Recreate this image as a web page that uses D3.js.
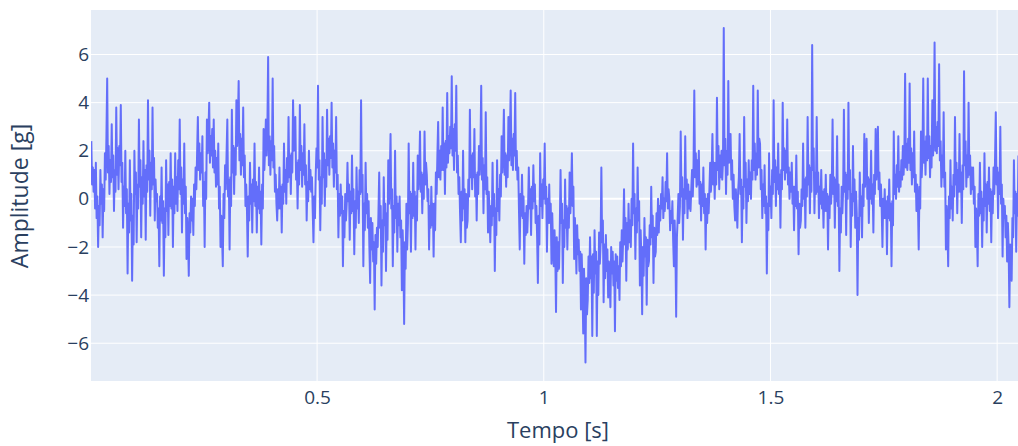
<!DOCTYPE html>
<html>
<head>
<meta charset="utf-8">
<script src="https://cdn.jsdelivr.net/npm/d3@7"></script>
<style>
  body { margin: 0; background: #ffffff; }
  text { font-family: "Open Sans", sans-serif; fill: #2a3f5f; }
</style>
</head>
<body>
<svg id="chart" width="1018" height="446"></svg>
<script>
// Accelerometer record: amplitude [g], one sample every 5/3 ms
const startTime = 0.002;        // s
const sampleStep = 0.005 / 3;   // s

const amplitudeSeg1 = [
  2.4, 0.6, 1.3, 0.3, 1.2, -0.4, 1.5, -0.8, 0.1, -2.0, -0.3, -1.1, 1.2, -0.2, 0.6, -1.6, 0.4, -0.5, 1.9, 0.8, 2.6, 5.0, 1.1, 2.2, 0.2, 1.6, 0.7, 3.1, 0.9, 1.8,
  -0.5, 1.2, 0.3, 3.8, 1.0, 2.1, 0.4, 2.2, 1.4, 3.9, 0.7, 1.5, -1.2, 0.5, -0.3, 2.0, -0.6, 0.4, -3.1, -0.2, -1.4, 1.6, -0.9, 0.2, -3.4, -0.7, -1.9, 2.0, 0.2, 1.1,
  -1.8, 0.6, -0.4, 3.3, 0.5, 1.6, -1.6, 0.9, -0.2, 2.4, 0.1, 1.2, -1.7, 1.4, 0.3, 4.1, 0.8, 2.0, -0.7, 1.5, 0.4, 3.8, 0.6, 1.7, -0.9, 0.8, -0.1, 0.2, -1.2, -0.4,
  -2.8, 0.1, -0.9, 1.3, -1.0, -0.1, -3.2, -0.4, -1.6, 1.6, -0.5, 0.6, -1.5, 0.7, -0.3, 1.9, -0.4, 0.8, -2.0, 0.5, -0.6, 1.9, -0.2, 0.9, -0.5, 1.6, 0.4, 3.3, 0.2, 1.3,
  -1.4, 0.8, -0.2, 2.3, -0.6, 0.5, -2.5, -0.8, -1.6, -3.2, -0.6, -1.4, 0.1, -0.9, 0.0, -1.5, 0.6, -0.3, 1.3, 0.4, 1.9, 3.4, 1.2, 2.3, 0.8, 1.9, 1.1, 2.6, -0.3, 0.7,
  -2.0, 1.1, 0.0, 3.3, 1.9, 2.8, 4.0, 1.5, 2.6, 1.8, 2.9, 1.3, 3.3, 1.1, 2.0, 0.5, 1.7, 0.6, 2.3, -0.4, 0.5, -2.0, -0.7, -1.5, -2.8, 0.2, -0.8, 1.4, 0.4, 1.9,
  3.3, 0.1, 0.8, -2.1, 0.9, -0.3, 3.7, 1.1, 2.2, 0.2, 2.1, 1.0, 4.1, 2.2, 3.2, 4.9, 1.6, 2.7, 1.0, 2.5, 1.4, 3.8, 0.9, 1.8, -0.3, 0.6, -0.5, -2.4, 0.1, -0.9,
  1.5, -0.2, 0.6, -1.4, 0.8, -0.1, 2.3, -0.3, 0.7, -1.4, 0.5, -0.4, 1.3, -0.6, 0.3, -1.9, 0.6, -0.4, 2.9, 1.2, 2.1, 3.3, 1.8, 2.9, 5.9, 1.4, 2.6, 1.0, 2.4, 1.6,
  5.0, 1.3, 2.2, 0.3, 1.0, -0.2, -0.9, 0.4, -0.4, 1.3, -0.4, 0.5, -1.4, 0.6, -0.2, 2.3, 0.3, 1.2, -0.2, 1.7, 0.7, 3.4, 0.9, 1.8, 0.2, 1.9, 1.1, 4.1, 2.0, 3.0,
  3.4, 0.8, 1.5, -0.4, 1.6, 0.6, 3.9, 1.2, 2.2, 0.5, 1.9, 1.0, 3.1, 0.6, 1.4, -0.9, 0.7, -0.1, 2.0, 0.4, 1.2, 0.3, 0.9, -0.5, -1.8, 0.1, -0.8, 1.0, 2.1, 1.3,
  4.7, 0.8, 1.6, -1.3, 0.9, -0.2
];
const amplitudeSeg2 = [
  3.4, 0.9, 1.9, -0.3, 1.6, 0.5, 3.7, 1.4, 2.5, 1.0, 2.6, 1.7, 4.0, 1.3, 2.3, 0.5, 2.0, 1.1, 3.4, 0.4, 1.0, -1.6, 0.2, -0.7, 0.6, -0.6, 0.1, -2.8, -0.5, -1.6,
  0.2, -0.9, -0.2, 1.5, -0.1, 0.6, -1.7, 0.3, -0.6, 1.8, -0.5, 0.4, -2.3, -0.1, -1.2, 1.3, -0.4, 0.3, -1.0, 1.2, 0.2, 4.1, 0.3, 1.0, -2.8, -0.2, -1.3, 1.5, -0.6, 0.2,
  -1.2, -0.1, -2.0, -3.5, -0.8, -2.1, -1.0, -2.6, -1.8, -4.6, -1.5, -2.7, -1.2, -2.0, -0.6, 1.1, -1.2, -0.3, -3.6, -0.9, -2.2, 0.9, -1.1, -0.2, -3.0, -0.6, -1.7, 1.6, -0.2, 0.9,
  2.7, -0.4, 0.4, -2.8, -0.3, -1.4, 2.0, -0.8, 0.1, -2.2, -0.2, -1.1, 0.1, -1.6, -0.9, -3.8, -1.3, -2.4, -5.2, -1.8, -2.9, -0.2, -2.1, -1.0, 2.3, -0.6, 0.3, -2.2, 0.2, -0.8,
  1.5, -0.7, 0.3, -2.1, 0.1, -0.9, 1.8, 0.4, 1.2, 2.8, 0.3, 1.1, -0.6, 1.0, 0.0, 2.8, 0.6, 1.5, 1.0, -0.1, 0.4, -2.1, -0.3, -1.2, 0.5, -1.1, -0.2, -2.4, -0.2, -1.3,
  1.1, 0.2, 1.8, 3.2, 0.9, 2.0, 0.8, 2.2, 1.2, 3.8, 1.2, 2.3, 0.2, 2.4, 1.3, 4.4, 1.5, 2.6, 1.9, 3.0, 2.1, 5.1, 1.8, 2.9, 1.2, 3.1, 2.0, 4.7, 1.1, 1.8,
  0.2, 0.9, -0.6, -1.8, 0.3, -0.9, 2.0, -0.4, 0.4, -1.8, 0.2, -1.2, -0.9, 0.8, 0.1, 3.7, 0.9, 1.8, 0.4, 1.9, 0.9, 2.9, 0.1, 1.0, -0.9, 1.1, 0.2, 2.2, 1.0, 2.0,
  4.7, 0.8, 1.7, -0.6, 1.4, 0.4, 3.6, 0.2, 0.9, -1.4, 0.3, -0.6, -1.8, -0.3, -1.1, 1.5, -0.7, 0.2, -3.0, -0.4, -1.5, 1.6, -0.5, 0.4, -0.9, 1.0, 0.1, 2.6, 1.1, 2.0,
  3.7, 1.0, 1.9, 0.5, 1.8, 0.9, 3.4, 1.6, 2.6, 4.5, 1.4, 2.5, 1.2, 2.7, 1.8, 4.4, 1.2, 2.0, 0.8, 1.3, -0.5, -2.1, 0.2, -0.7, 1.0, -0.8, 0.1, -2.7, -0.6, -1.5,
  -0.3, -1.4, -0.4, 1.3, -0.4, 0.4, -1.5, 0.5, -0.4, 1.4, -0.1, 0.6, -1.0, -0.3, -1.6, -3.5, -0.7, -1.9, 1.9, -0.3, 0.6, -0.8, 0.8, 0.0, 2.3, -0.2, 0.5, -2.2, 0.0, -1.0,
  0.6, -1.0, -0.2, -2.7, -0.6, -1.9
];
const amplitudeSeg3 = [
  -2.8, -1.3, -2.2, -4.7, -1.6, -3.0, -1.8, -2.9, -1.2, 1.2, -1.0, -0.2, -3.5, -0.9, -2.0, 0.8, -1.2, -0.3, -2.1, -0.4, -1.2, 1.1, -0.6, 0.3, 1.9, -0.3, 0.5, -2.5, -0.8, -1.7,
  -3.1, -1.1, -2.3, -1.7, -3.0, -2.2, -4.6, -2.3, -3.6, -5.6, -2.9, -4.1, -6.8, -3.3, -4.8, -4.2, -2.4, -3.5, -1.6, -3.3, -2.4, -5.7, -2.3, -3.9, -1.3, -3.1, -2.2, -5.7, -2.6, -4.0,
  -1.4, -2.7, -1.9, 1.3, -1.8, -0.9, -4.3, -1.9, -3.3, -1.5, -3.0, -2.1, -4.1, -2.6, -3.4, -4.5, -2.0, -3.1, -2.2, -3.6, -2.6, -5.5, -2.3, -3.4, -2.4, -3.7, -2.8, -4.2, -1.8, -2.8,
  -1.3, -2.6, -1.5, 0.4, -1.9, -0.8, -3.4, -1.0, -2.1, -0.2, -1.8, -0.9, -2.0, 0.0, -1.1, 2.3, -0.6, 0.2, -2.5, -0.4, -1.4, 1.3, -0.9, -0.1, -3.6, -1.3, -2.5, -4.8, -2.0, -3.2,
  -0.8, -2.4, -1.6, -4.4, -1.7, -2.8, -2.6, -1.1, -1.9, 0.5, -1.6, -0.7, -3.5, -1.2, -2.4, -2.2, -0.6, -1.5, 0.0, -1.4, -0.3, -0.9, 0.2, -0.4, 0.9, -0.8, 0.0, -0.5, 0.7, -0.1,
  1.9, -0.4, 0.4, 0.0, -1.3, -0.5, -1.0, -0.1, -1.7, -2.8, -0.9, -2.1, -4.9, -1.6, -0.8, 0.2, -1.0, -0.3, 2.8, 0.1, 0.9, -1.7, 0.4, -0.6, 2.6, 0.0, 0.8, -0.8, 0.6, -0.4,
  0.3, -0.5, 0.4, 1.2, 0.1, 1.4, 4.5, 0.9, 1.9, 0.5, 1.6, 0.6, 2.0, -0.2, 0.7, -0.9, 0.6, -0.3, 1.3, -0.6, 0.2, -2.1, 0.0, -1.0, 0.2, -0.6, 0.4, 1.5, 0.3, 1.1,
  2.7, 0.6, 1.5, 0.0, 1.5, 0.6, 4.2, 1.2, 2.2, 0.4, 1.8, 0.9, 2.0, 0.8, 1.6, 7.1, 1.4, 2.5, 0.2, 2.0, 1.0, 4.9, 1.5, 2.3, 2.7, 0.8, 1.6, 0.0, 1.0, -0.3,
  -0.9, 0.4, -0.4, -1.2, 0.3, 0.9, 2.7, 0.2, 0.8, -1.8, 0.5, -0.4, 3.4, 0.5, 1.5, -1.0, 0.8, -0.1, 1.6, 0.2, 1.1, 0.0, 1.6, 0.8, 4.7, 1.2, 2.3, 0.8, 1.9, 1.0,
  4.5, 1.3, 2.5, 2.3, 0.4, 1.2, -0.8, 0.6, -0.3, 1.4, -0.6, 0.1, -3.1, -0.2, -1.3, 1.9, -0.3, 0.5, -0.8, 1.2, 0.2, 4.1, 0.7, 1.6, -0.3, 1.3, 0.4, 2.3, 0.2, 1.0,
  -1.2, 1.2, 0.4
];
const amplitudeSeg4 = [
  4.0, 1.2, 2.1, 0.8, 2.0, 1.1, 3.3, 0.6, 1.3, 0.0, 1.1, 0.3, 1.5, -0.2, 0.5, -1.3, 0.5, -0.3, 1.8, -0.4, 0.3, -2.3, -0.2, -1.2, -0.9, 0.4, -0.3, 2.3, 0.0, 0.8,
  -1.2, 0.9, 0.1, 3.4, 0.6, 1.4, -0.6, 1.3, 0.3, 6.4, 1.2, 2.1, -0.6, 1.1, 0.2, 3.4, 0.3, 1.1, -0.8, 0.5, -0.2, 1.2, -0.4, 0.3, -1.2, 0.4, -0.5, 1.0, -0.5, 0.2,
  -2.1, 0.1, -0.8, 1.0, -0.2, 0.6, 3.3, 0.2, 0.9, -1.2, 0.8, -0.1, 2.6, -0.3, 0.6, -3.0, -0.4, -1.4, 0.5, -0.6, 0.4, 3.7, 0.3, 1.1, -1.5, 1.0, 0.0, 4.0, 0.4, 1.2,
  -2.0, 0.2, -0.7, 2.2, -0.1, 0.8, -1.2, 0.3, -0.6, -4.0, -0.8, -1.7, 1.1, -0.7, 0.1, -1.6, 0.6, -0.3, 2.7, 0.5, 1.4, 2.5, 0.0, 0.9, -1.0, 0.8, 0.0, 2.0, -0.2, 0.6,
  -1.4, 1.0, 0.2, 2.9, 0.8, 1.7, 3.0, 0.4, 1.1, -0.3, 0.6, -0.4, -2.0, 0.0, -0.8, 0.4, -0.8, -0.1, -2.3, 0.1, -0.8, 0.8, -0.9, -0.2, -2.8, -0.1, -1.1, 2.8, 0.2, 1.0,
  0.0, 1.4, 0.5, 2.6, 0.3, 1.1, 0.5, 1.6, 0.8, 2.2, 1.0, 1.8, 5.2, 1.3, 2.3, 1.2, 2.5, 1.5, 4.8, 1.2, 2.1, 0.6, 1.9, 0.9, 2.8, 0.3, 1.0, -0.5, 0.6, -0.3,
  -2.1, 0.5, -0.4, 2.8, 0.9, 1.9, 5.0, 1.5, 2.4, 1.0, 2.6, 1.6, 5.0, 1.7, 2.6, 0.9, 2.2, 1.3, 4.1, 1.8, 2.8, 6.5, 2.0, 3.0, 1.9, 3.2, 2.2, 5.6, 1.6, 2.4,
  0.5, 1.8, 0.9, 3.6, 0.5, 1.1, -2.1, -0.3, -1.2, -2.8, 0.1, -0.8, 1.6, -0.4, 0.5, -0.9, 1.0, 0.1, 3.4, 0.6, 1.5, -0.6, 1.2, 0.3, 2.7, 0.3, 1.1, -1.0, 1.4, 0.4,
  5.3, 1.4, 2.4, 0.5, 1.8, 0.9, 4.0, 1.0, 1.8, 0.2, 1.3, 0.4, 1.3, -0.2, 0.5, -2.0, -0.4, -1.2, -2.8, 0.2, -0.7, 1.5, -0.6, 0.3, -2.0, 0.0, -0.9, 1.9, -0.3, 0.6,
  -1.4, 0.7, -0.2, 1.3, -0.5, 0.4, -1.8, 0.3, -0.6, 1.3, 0.2, 1.6, 3.6, 0.6, 1.3, -0.8, 1.1, 0.2, 3.0, -0.2, 0.6, -2.4, 0.0, -0.8, -0.3, -1.6, -0.7, -2.6, -1.0, -2.0,
  -4.5, -1.9, -2.8, -3.4, -0.8, -1.6, 1.6, -0.6, 0.3, -2.2, 0.2, -0.7, 1.8
];

const xTickValues = [0.5, 1, 1.5, 2];
const yTickValues = [-6, -4, -2, 0, 2, 4, 6];
const xTitle = "Tempo [s]";
const yTitle = "Amplitude [g]";

const amplitude = amplitudeSeg1.concat(amplitudeSeg2, amplitudeSeg3, amplitudeSeg4);
const samples = amplitude.map((v, i) => ({ t: startTime + i * sampleStep, v }));

const plot = { left: 91, right: 1018, top: 10, bottom: 381 };

const svg = d3.select("#chart");

const x = d3.scaleLinear().domain([0.0013, 2.046]).range([plot.left, plot.right]);
const y = d3.scaleLinear().domain([-7.57, 7.85]).range([plot.bottom, plot.top]);

// plot background
svg.append("rect")
  .attr("x", plot.left).attr("y", plot.top)
  .attr("width", plot.right - plot.left).attr("height", plot.bottom - plot.top)
  .attr("fill", "#E5ECF6");

// grid
const grid = svg.append("g");
grid.selectAll("line.gx").data(xTickValues).join("line")
  .attr("x1", d => x(d)).attr("x2", d => x(d))
  .attr("y1", plot.top).attr("y2", plot.bottom)
  .attr("stroke", "#ffffff").attr("stroke-width", 1);
grid.selectAll("line.gy").data(yTickValues).join("line")
  .attr("x1", plot.left).attr("x2", plot.right)
  .attr("y1", d => y(d)).attr("y2", d => y(d))
  .attr("stroke", "#ffffff").attr("stroke-width", d => d === 0 ? 2 : 1);

// signal trace
svg.append("clipPath").attr("id", "plotClip")
  .append("rect")
  .attr("x", plot.left).attr("y", plot.top)
  .attr("width", plot.right - plot.left).attr("height", plot.bottom - plot.top);

const line = d3.line().x(d => x(d.t)).y(d => y(d.v));
svg.append("path")
  .datum(samples)
  .attr("clip-path", "url(#plotClip)")
  .attr("d", line)
  .attr("fill", "none")
  .attr("stroke", "#636efa")
  .attr("stroke-width", 2)
  .attr("stroke-linejoin", "round");

// axes (labels only)
const xAxis = d3.axisBottom(x).tickValues(xTickValues).tickFormat(d3.format("~g"))
  .tickSize(0).tickPadding(10);
const yAxis = d3.axisLeft(y).tickValues(yTickValues).tickFormat(d3.format("~g"))
  .tickSize(0).tickPadding(2);

const gx = svg.append("g").attr("transform", `translate(0,${plot.bottom})`).call(xAxis);
const gy = svg.append("g").attr("transform", `translate(${plot.left},0)`).call(yAxis);
[gx, gy].forEach(g => {
  g.select(".domain").remove();
  g.selectAll("text").attr("font-size", 19).attr("font-family", "'Open Sans', sans-serif").attr("fill", "#2a3f5f");
});

// axis titles
svg.append("text")
  .attr("x", 558).attr("y", 430)
  .attr("text-anchor", "middle").attr("dy", "0.35em")
  .attr("font-size", 22)
  .text(xTitle);
svg.append("text")
  .attr("transform", "translate(20,196) rotate(-90)")
  .attr("text-anchor", "middle").attr("dy", "0.35em")
  .attr("font-size", 23)
  .text(yTitle);
</script>
</body>
</html>
